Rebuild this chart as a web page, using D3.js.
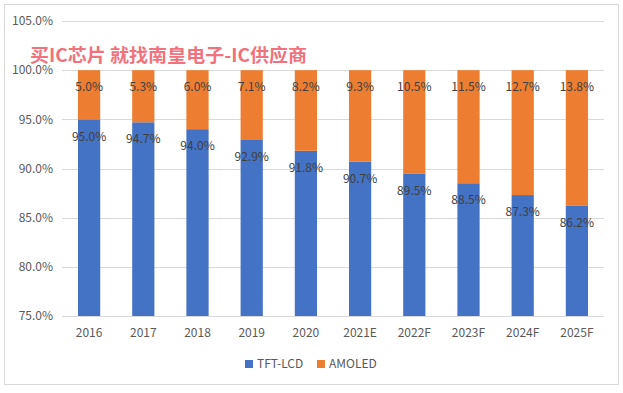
<!DOCTYPE html>
<html>
<head>
<meta charset="utf-8">
<script src="https://cdn.jsdelivr.net/npm/d3@7"></script>
<style>
  body { margin: 0; background: #fff; }
  text { font-family: "Microsoft YaHei", "Noto Sans CJK SC", "DejaVu Sans", sans-serif; }
</style>
</head>
<body>
<div id="chart"></div>
<script>
// data
var years = ["2016", "2017", "2018", "2019", "2020", "2021E", "2022F", "2023F", "2024F", "2025F"];
var tftLcd = [95.0, 94.7, 94.0, 92.9, 91.8, 90.7, 89.5, 88.5, 87.3, 86.2];
var amoled = [5.0, 5.3, 6.0, 7.1, 8.2, 9.3, 10.5, 11.5, 12.7, 13.8];
var yTicks = [75, 80, 85, 90, 95, 100, 105];
var seriesNames = ["TFT-LCD", "AMOLED"];
var colors = ["#4472C4", "#ED7D31"];

var width = 623, height = 393;

var svg = d3.select("#chart").append("svg")
    .attr("width", width)
    .attr("height", height);

// chart frame
svg.append("rect")
    .attr("x", 4.5).attr("y", 4.5)
    .attr("width", 614).attr("height", 380)
    .attr("fill", "#fff")
    .attr("stroke", "#d9d9d9");

var x = d3.scaleBand()
    .domain(years)
    .range([62, 604])
    .paddingInner(0.59)
    .paddingOuter(0.295);

var y = d3.scaleLinear()
    .domain([75, 105])
    .range([316, 21]);

// gridlines
svg.append("g").selectAll("line")
    .data(yTicks)
    .enter().append("line")
      .attr("x1", 62).attr("x2", 604)
      .attr("y1", function(d) { return Math.round(y(d)) + 0.5; })
      .attr("y2", function(d) { return Math.round(y(d)) + 0.5; })
      .attr("stroke", "#d9d9d9");

// y tick labels
svg.append("g").selectAll("text")
    .data(yTicks)
    .enter().append("text")
      .attr("x", 53)
      .attr("y", function(d) { return y(d); })
      .attr("dy", "0.35em")
      .attr("text-anchor", "end")
      .attr("font-size", 12)
      .attr("fill", "#595959")
      .text(function(d) { return d.toFixed(1) + "%"; });

// stacked rows
var rows = years.map(function(yr, i) {
  return { year: yr, tft: tftLcd[i], amo: amoled[i] };
});

var bars = svg.append("g");

// blue part from bottom of axis to the TFT-LCD share
bars.selectAll("rect.tft")
    .data(rows)
    .enter().append("rect")
      .attr("class", "tft")
      .attr("x", function(d) { return x(d.year); })
      .attr("width", x.bandwidth())
      .attr("y", function(d) { return y(d.tft); })
      .attr("height", function(d) { return y(75) - y(d.tft); })
      .attr("fill", colors[0]);

// orange part stacked on top
bars.selectAll("rect.amo")
    .data(rows)
    .enter().append("rect")
      .attr("class", "amo")
      .attr("x", function(d) { return x(d.year); })
      .attr("width", x.bandwidth())
      .attr("y", function(d) { return y(d.tft + d.amo); })
      .attr("height", function(d) { return y(d.tft) - y(d.tft + d.amo); })
      .attr("fill", colors[1]);

// value labels (inside end)
var labels = svg.append("g")
    .attr("font-size", 12)
    .attr("fill", "#404040")
    .attr("text-anchor", "middle");

labels.selectAll("text.tft")
    .data(rows)
    .enter().append("text")
      .attr("x", function(d) { return x(d.year) + x.bandwidth() / 2; })
      .attr("y", function(d) { return y(d.tft) + 17; })
      .attr("dy", "0.35em")
      .text(function(d) { return d.tft.toFixed(1) + "%"; });

labels.selectAll("text.amo")
    .data(rows)
    .enter().append("text")
      .attr("x", function(d) { return x(d.year) + x.bandwidth() / 2; })
      .attr("y", function(d) { return y(d.tft + d.amo) + 17; })
      .attr("dy", "0.35em")
      .text(function(d) { return d.amo.toFixed(1) + "%"; });

// x category labels
svg.append("g").selectAll("text")
    .data(years)
    .enter().append("text")
      .attr("x", function(d) { return x(d) + x.bandwidth() / 2; })
      .attr("y", 333)
      .attr("dy", "0.35em")
      .attr("text-anchor", "middle")
      .attr("font-size", 12)
      .attr("fill", "#595959")
      .text(function(d) { return d; });

// legend
var legendX = [245, 317];
var legend = svg.append("g").selectAll("g")
    .data(seriesNames)
    .enter().append("g")
      .attr("transform", function(d, i) { return "translate(" + legendX[i] + ",364)"; });

legend.append("rect")
    .attr("x", 0).attr("y", -4)
    .attr("width", 8).attr("height", 8)
    .attr("fill", function(d, i) { return colors[i]; });

legend.append("text")
    .attr("x", 12)
    .attr("dy", "0.35em")
    .attr("font-size", 12)
    .attr("fill", "#595959")
    .text(function(d) { return d; });

// watermark title
svg.append("text")
    .attr("x", 30)
    .attr("y", 56)
    .attr("dy", "0.35em")
    .attr("font-size", 18)
    .attr("font-weight", "bold")
    .attr("fill", "#F0727C")
    .attr("textLength", 277)
    .attr("lengthAdjust", "spacingAndGlyphs")
    .text("买IC芯片 就找南皇电子-IC供应商");
</script>
</body>
</html>
